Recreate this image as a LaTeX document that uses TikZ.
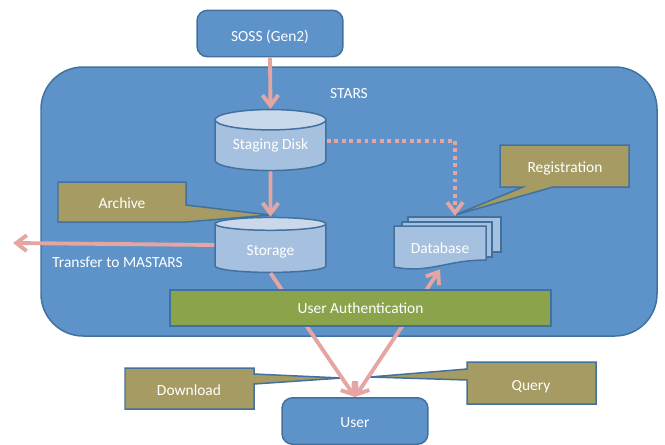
\documentclass[tikz,border=0pt]{standalone}
\usepackage{fontspec}
\setmainfont{Carlito}
\usetikzlibrary{positioning,shapes.geometric,arrows.meta}
\definecolor{boxblue}{HTML}{5D93C9}
\definecolor{edgeblue}{HTML}{41719F}
\definecolor{paleblue}{HTML}{A6C0DF}
\definecolor{topblue}{HTML}{C9D8EB}
\definecolor{olive}{HTML}{A59B63}
\definecolor{grass}{HTML}{8BA34B}
\definecolor{pink}{HTML}{E5A5A3}
\tikzset{
  every node/.style={text=white,font=\fontsize{8.8}{10}\selectfont,inner sep=0pt},
  outline/.style={draw=edgeblue,line width=0.85pt},
  bluebox/.style={outline,fill=boxblue,rounded corners=6pt,minimum width=2.92cm,minimum height=0.93cm},
  diskshape/.style={outline,cylinder,shape border rotate=90,aspect=0.27,cylinder uses custom fill,
    cylinder body fill=paleblue,cylinder end fill=topblue,minimum width=2.22cm},
  notebox/.style={outline,fill=olive,line join=miter},
  sheet/.style={outline,fill=paleblue},
  flow/.style={draw=pink,line width=2.2pt,-{Straight Barb[length=6pt,width=9pt,line width=2.2pt]}},
  dots/.style={flow,dash pattern=on 2.2pt off 2.1pt}
}
\begin{document}
\begin{tikzpicture}[x=0.02cm,y=-0.02cm]
\useasboundingbox (0,0) rectangle (665,444);
% system frame
\draw [outline,fill=boxblue,rounded corners=24pt] (41,67) rectangle (657,336);
\node at (349,94) {STARS};
% outer boxes
\node [bluebox,text height=10pt] (soss) at (270,33.5) {SOSS (Gen2)};
\node [bluebox,text height=7.5pt] (user) at (355,421) {User};
% disks
\node [diskshape,minimum height=1.22cm] (staging) at (270.5,145.5) {Staging Disk};
\node [diskshape,minimum height=1.1cm,text height=10pt] (storage) at (270.5,248.5) {Storage};
% database stack
\draw [sheet] (408,217) rectangle (501,252);
\draw [sheet] (402,222) rectangle (492,257);
\draw [sheet] (394,226) -- (486,226) -- (486,260) .. controls (455,260) and (440,268) .. (415,269) .. controls (405,269) and (400,268) .. (394,267) -- cycle;
\node [minimum width=1.84cm,minimum height=0.84cm] (database) at (440,248) {Database};
\coordinate (dbtop) at (455,216);
\coordinate (mastars) at (13,243);
% callouts
\draw [notebox] (58,182) -- (186,182) -- (186,205) -- (270,215) -- (186,222) -- (58,222) -- cycle;
\node (archive) at (122,203) {Archive};
\draw [notebox] (500,145) -- (629,145) -- (629,187) -- (553,187) -- (455,215) -- (523,187) -- (500,187) -- cycle;
\node (registration) at (565,168) {Registration};
\draw [notebox] (125,368) -- (254,368) -- (254,374) -- (342,378) -- (254,384) -- (254,409) -- (125,409) -- cycle;
\node (download) at (189,390) {Download};
\draw [notebox] (467,362) -- (596,362) -- (596,404) -- (467,404) -- (467,380) -- (370,377) -- (467,369) -- cycle;
\node [text height=8pt] (query) at (531,385) {Query};
% flows
\draw [flow] (soss.south) -- (staging.north);
\draw [flow] (staging.south) -- (storage.north);
\draw [flow] ([yshift=2pt]storage.west) -- (mastars);
\draw [dots] ([yshift=2.8pt]staging.east) -| (dbtop);
\draw [flow] (storage.south) -- (user.north);
\draw [flow,{Straight Barb[length=6pt,width=9pt,line width=2.2pt]}-{Straight Barb[length=6pt,width=9pt,line width=2.2pt]}] (database.south) -- (user.north);
\node [outline,fill=grass,minimum width=7.62cm,minimum height=0.72cm] (auth) at (360.5,308) {User Authentication};
\node [anchor=west] (transfer) at (52,262) {Transfer to MASTARS};
\end{tikzpicture}
\end{document}
